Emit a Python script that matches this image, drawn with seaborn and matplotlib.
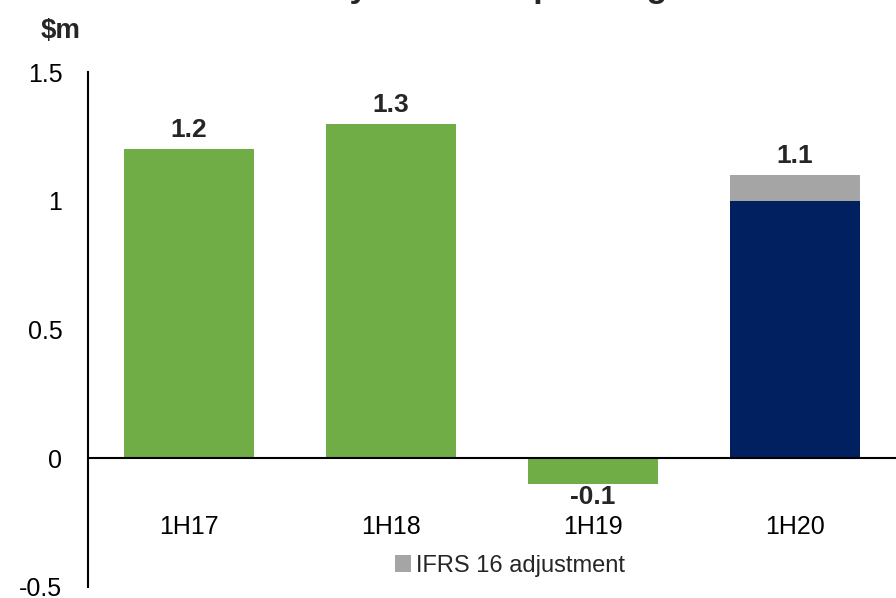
import matplotlib
matplotlib.use("Agg")
import matplotlib.pyplot as plt
from matplotlib.patches import Patch
import seaborn as sns
import pandas as pd

# Half-year results, $m
periods = ["1H17", "1H18", "1H19", "1H20"]
underlying = [1.2, 1.3, -0.1, 1.0]
ifrs16_adj = [0.0, 0.0, 0.0, 0.1]
bar_colors = ["#70AD47", "#70AD47", "#70AD47", "#002060"]
adj_color = "#A5A5A5"
y_ticks = [-0.5, 0, 0.5, 1, 1.5]
y_tick_labels = ["-0.5", "0", "0.5", "1", "1.5"]
title_text = "Pharmacy EBITDA operating result"
unit_label = "$m"
legend_label = "IFRS 16 adjustment"

sns.set_theme(style="white")
plt.rcParams["font.family"] = ["Liberation Sans", "DejaVu Sans"]

df = pd.DataFrame({"period": periods, "value": underlying, "adj": ifrs16_adj})
df["total"] = df["value"] + df["adj"]

fig = plt.figure(figsize=(8.96, 5.98), dpi=100)
ax = fig.add_axes([88 / 896, 11 / 598, 808 / 896, 515 / 598])

sns.barplot(data=df, x="period", y="value", hue="period", palette=bar_colors,
            width=0.64, legend=False, ax=ax, saturation=1)
ax.bar(range(len(periods)), df["adj"], bottom=df["value"], width=0.64,
       color=adj_color, linewidth=0)
for p in ax.patches:
    p.set_linewidth(0)

ax.set_xlim(-0.5, 3.5)
ax.set_ylim(-0.5, 1.5)
ax.set_yticks(y_ticks)
ax.set_yticklabels(y_tick_labels, fontsize=18, color="black")
ax.tick_params(axis="y", length=0, pad=18.5)
ax.set_xticks([])
ax.set_xlabel("")
ax.set_ylabel("")

for side in ["top", "right", "bottom"]:
    ax.spines[side].set_visible(False)
ax.spines["left"].set_color("black")
ax.spines["left"].set_linewidth(1.5)
ax.axhline(0, color="black", lw=1.5, zorder=3, clip_on=False)

# category names sit below the zero line
for i, name in enumerate(periods):
    ax.text(i, -0.268, name, ha="center", va="center", fontsize=18, color="black")

# value labels from the stacked totals
for i, tot in enumerate(df["total"]):
    if tot >= 0:
        ax.annotate(f"{tot:.1f}", (i, tot), xytext=(0, 5), textcoords="offset points",
                    ha="center", va="bottom", fontsize=19, fontweight="bold")
    else:
        ax.annotate(f"{tot:.1f}", (i, tot), xytext=(0, -1), textcoords="offset points",
                    ha="center", va="top", fontsize=19, fontweight="bold")

fig.text(61 / 896, 1 - 31 / 598, unit_label, ha="center", va="center",
         fontsize=20, fontweight="bold")
fig.text(206 / 896, 1.0 + 3 / 598, title_text, ha="left", va="baseline",
         fontsize=24.5, fontweight="bold")

fig.legend(handles=[Patch(facecolor=adj_color, edgecolor="none")], labels=[legend_label],
           loc="center", bbox_to_anchor=(510 / 896, 1 - 566 / 598), frameon=False,
           fontsize=17, handlelength=0.7, handleheight=0.7, handletextpad=0.2)

fig.savefig("out.png", dpi=100)
